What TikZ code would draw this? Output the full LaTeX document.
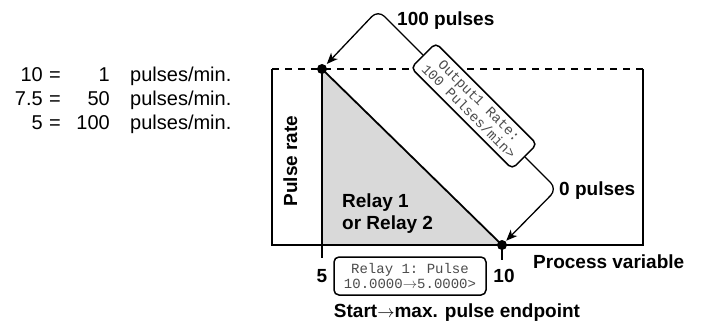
\documentclass[tikz,border=0pt]{standalone}
\usepackage{fontspec}
\setmainfont{Liberation Sans}
\setmonofont{Liberation Mono}
\usetikzlibrary{arrows.meta}
\begin{document}
\begin{tikzpicture}[x=1pt,y=-1pt,
  lbl/.style={font=\fontsize{19}{22}\selectfont\bfseries, inner sep=0pt},
  reg/.style={font=\fontsize{20}{24}\selectfont, inner sep=0pt},
  lcd/.style={draw, line width=1.5pt, rounded corners=5pt, fill=white,
    font=\ttfamily\fontsize{14}{15}\selectfont, text=black!70, align=center, inner sep=0pt},
  axisline/.style={line width=1.8pt},
  conn/.style={line width=1.3pt, rounded corners=9pt, -{Stealth[length=11pt,width=9pt,inset=3pt]}},
  dot/.style={circle, fill=black, inner sep=0pt, minimum size=10pt}
]
\useasboundingbox (0,0) rectangle (706,330);
% frame coordinates
\coordinate (TL) at (272,69);
\coordinate (TR) at (643,69);
\coordinate (BL) at (272,245);
\coordinate (BR) at (643,245);
\coordinate (A) at (322,69);
\coordinate (B) at (502,245);
\coordinate (Abot) at (322,245);
\coordinate (Atick) at (322,258);
\coordinate (Btick) at (502,260);
\coordinate (P1) at (378,10);
\coordinate (P2) at (557,189);
% shaded triangle
\fill[black!15] (A) -- (B) -- (Abot) -- cycle;
% frame
\draw[axisline, dash pattern=on 7pt off 6pt] (TL) -- (TR);
\draw[axisline] (TL) -- (BL) -- (BR) -- (TR);
\draw[axisline] (A) -- (Atick);
\draw[axisline] (A) -- (B);
\draw[axisline] (B) -- (Btick);
% output rate box and connectors
\node[lcd, rotate=-45, minimum width=143pt, minimum height=35pt] (out) at (474,106)
  {Output1 Rate:\\100 Pulses/min>};
\draw[conn, shorten >=7pt] (out.west) -- (P1) -- (A);
\draw[conn, shorten >=6pt] (out.east) -- (P2) -- (B);
% dots
\node[dot] (dA) at (A) {};
\node[dot] (dB) at (B) {};
% labels
\node[lbl, anchor=base west] (l100) at (397,25) {100 pulses};
\node[lbl, anchor=base west] (l0) at (559,195) {0 pulses};
\node[lbl, anchor=base, rotate=90] (pr) at (297,161) {Pulse rate};
\node[lbl, anchor=base west] (r1) at (342,207) {Relay 1};
\node[lbl, anchor=base west] (r2) at (342,229) {or Relay 2};
\node[lbl, anchor=base] (n5) at (322,282) {5};
\node[lbl, anchor=base] (n10) at (504,282) {10};
\node[lbl, anchor=base west] (pv) at (533,268) {Process variable};
\node[lbl, anchor=base] (se) at (457,317) {Start$\rightarrow$max. pulse endpoint};
% relay box
\node[lcd, minimum width=152pt, minimum height=38pt] (relay) at (410,276)
  {Relay 1: Pulse\\10.0000$\rightarrow$5.0000>};
% left table
\node[reg, anchor=base east] (a1) at (43,81) {10};
\node[reg, anchor=base west] (e1) at (49,81) {=};
\node[reg, anchor=base east] (b1) at (110,81) {1};
\node[reg, anchor=base west] (c1) at (130,81) {pulses/min.};
\node[reg, anchor=base east] (a2) at (43,105) {7.5};
\node[reg, anchor=base west] (e2) at (49,105) {=};
\node[reg, anchor=base east] (b2) at (110,105) {50};
\node[reg, anchor=base west] (c2) at (130,105) {pulses/min.};
\node[reg, anchor=base east] (a3) at (43,129) {5};
\node[reg, anchor=base west] (e3) at (49,129) {=};
\node[reg, anchor=base east] (b3) at (110,129) {100};
\node[reg, anchor=base west] (c3) at (130,129) {pulses/min.};
\end{tikzpicture}
\end{document}
